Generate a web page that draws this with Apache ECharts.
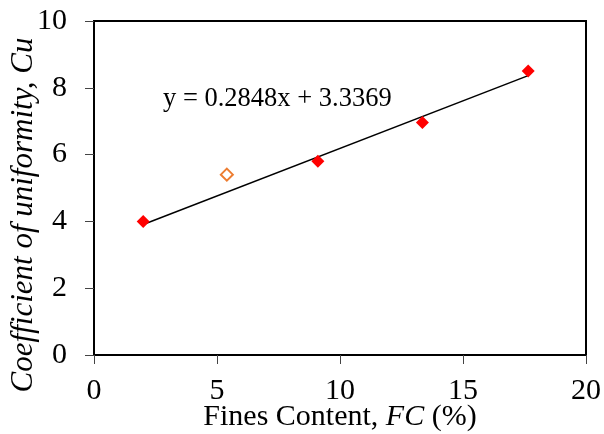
<!DOCTYPE html>
<html>
<head>
<meta charset="utf-8">
<script src="https://cdn.jsdelivr.net/npm/echarts@6/dist/echarts.min.js"></script>
<style>
  html, body { margin: 0; padding: 0; background: #fff; }
  #chart { width: 604px; height: 434px; }
</style>
</head>
<body>
<div id="chart"></div>
<script>
// Fines content (%) and coefficient of uniformity for the tested soils
const fcFilled = [2.0, 9.1, 13.35, 17.65];
const cuFilled = [4.0, 5.8, 6.96, 8.5];
// Sample shown with an open marker (not part of the fit)
const fcOpen = [5.4];
const cuOpen = [5.4];
// Linear fit: Cu = slope * FC + intercept
const fitSlope = 0.2848;
const fitIntercept = 3.3369;
const fitLabel = 'y = 0.2848x + 3.3369';
// Axis ticks and titles
const xTicks = [0, 5, 10, 15, 20];
const yTicks = [0, 2, 4, 6, 8, 10];
const yTitle = 'Coefficient of uniformity, Cu';

const serif = '"Times New Roman", "Liberation Serif", serif';

const fitX = [Math.min(...fcFilled), Math.max(...fcFilled)];
const fitLine = fitX.map(x => [x, fitSlope * x + fitIntercept]);

const chart = echarts.init(document.getElementById('chart'), null, { renderer: 'canvas' });
chart.setOption({
  animation: false,
  backgroundColor: '#fff',
  grid: {
    left: 94, right: 18, top: 21, bottom: 79,
    outerBoundsMode: 'none',
    containLabel: false,
    show: true, borderColor: '#000', borderWidth: 2
  },
  xAxis: {
    type: 'value',
    min: xTicks[0], max: xTicks[xTicks.length - 1], interval: 5,
    name: 'Fines Content, {i|FC} (%)',
    nameLocation: 'middle',
    nameGap: 47,
    nameMoveOverlap: false,
    nameTextStyle: {
      fontFamily: serif, fontSize: 30, color: '#000',
      rich: { i: { fontFamily: serif, fontSize: 30, fontStyle: 'italic', color: '#000' } }
    },
    axisLine: { lineStyle: { color: '#000', width: 2 } },
    axisTick: { inside: false, length: 9, lineStyle: { color: '#444', width: 1 } },
    axisLabel: { fontFamily: serif, fontSize: 30, color: '#000', margin: 21 },
    splitLine: { show: false }
  },
  yAxis: {
    type: 'value',
    min: yTicks[0], max: yTicks[yTicks.length - 1], interval: 2,
    axisLine: { lineStyle: { color: '#000', width: 2 } },
    axisTick: { inside: false, length: 9, lineStyle: { color: '#444', width: 1 } },
    axisLabel: { fontFamily: serif, fontSize: 30, color: '#000', margin: 27 },
    splitLine: { show: false }
  },
  series: [
    {
      name: 'Linear fit',
      type: 'line',
      data: fitLine,
      symbol: 'none',
      lineStyle: { color: '#000', width: 1.5 },
      z: 2
    },
    {
      name: 'Fitted samples',
      type: 'scatter',
      data: fcFilled.map((x, i) => [x, cuFilled[i]]),
      symbol: 'diamond',
      symbolSize: 13,
      itemStyle: { color: '#ff0000', opacity: 1 },
      z: 3
    },
    {
      name: 'Excluded sample',
      type: 'scatter',
      data: fcOpen.map((x, i) => [x, cuOpen[i]]),
      symbol: 'diamond',
      symbolSize: 12,
      itemStyle: { color: '#fff', borderColor: '#ed7d31', borderWidth: 2, opacity: 1 },
      z: 3
    }
  ],
  graphic: [
    {
      type: 'text',
      left: 163, top: 86,
      style: { text: fitLabel, font: '26.5px ' + serif, fill: '#000' }
    },
    {
      type: 'text',
      x: 24, y: 215,
      rotation: Math.PI / 2,
      style: {
        text: yTitle, font: 'italic 31px ' + serif, fill: '#000',
        align: 'center', verticalAlign: 'middle'
      }
    }
  ]
});
</script>
</body>
</html>
